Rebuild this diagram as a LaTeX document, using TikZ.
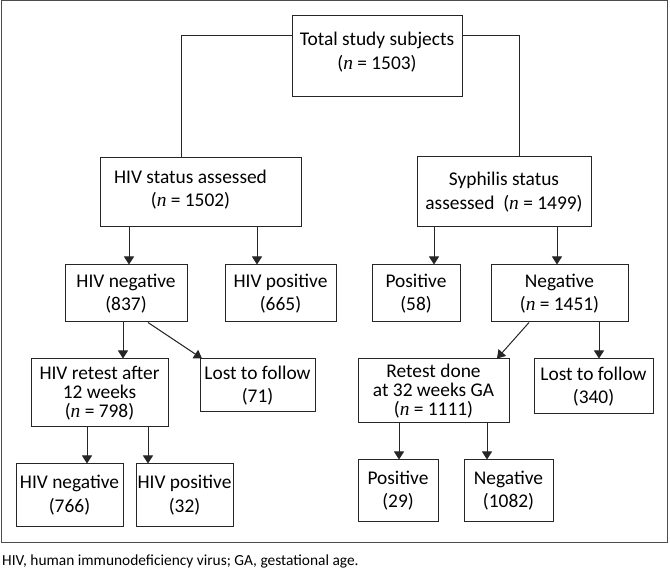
\documentclass[tikz,border=0pt]{standalone}
\usepackage{fontspec}
\setmainfont{Carlito}
\newfontfamily\serifn{Liberation Serif}
\usepackage{tikz}
\usetikzlibrary{arrows.meta}
\newcommand{\nvar}{{\serifn\itshape n}}

\tikzset{
  box/.style={draw=black!85,line width=1pt,inner sep=0pt,align=center,
    font=\fontsize{19.4}{23.5}\selectfont},
  tightbox/.style={box,font=\fontsize{19.4}{19}\selectfont},
  arr/.style={draw=black!85,line width=1pt,-{Triangle[length=8pt,width=10pt]}},
  link/.style={draw=black!85,line width=1pt}
}

\begin{document}
\begin{tikzpicture}[x=1pt,y=-1pt]
			\useasboundingbox (0,0) rectangle (670,569);
			% outer frame
			\draw[black!70,line width=1pt] (1,1) rectangle (667,542);
			% top box
			\node[box,minimum width=170pt,minimum height=81pt,text depth=11pt] (total) at (377,56.5) {Total study subjects\\(\nvar{} = 1503)};
			% second row
			\node[box,minimum width=201pt,minimum height=69pt,text depth=8pt] (hivstat) at (200.5,192.5) {HIV status assessed\hspace*{20pt}\\(\nvar{} = 1502)\hspace*{20pt}};
			\node[box,minimum width=174pt,minimum height=70pt] (syphstat) at (504,192) {Syphilis status\\assessed\ \ (\nvar{} = 1499)};
			% third row
			\node[box,minimum width=122pt,minimum height=57pt] (hivneg) at (126,293.5) {HIV negative\\(837)};
			\node[box,minimum width=111pt,minimum height=57pt] (hivpos) at (280.5,293.5) {HIV positive\\(665)};
			\node[box,minimum width=88pt,minimum height=57pt] (syphpos) at (416,293.5) {Positive\\(58)};
			\node[box,minimum width=137pt,minimum height=57pt] (syphneg) at (559.5,293.5) {Negative\\(\nvar{} = 1451)};
			% fourth row
			\node[tightbox,minimum width=137pt,minimum height=68pt] (hivretest) at (99.5,393) {HIV retest after\\12 weeks\\(\nvar{} = 798)};
			\node[box,minimum width=115pt,minimum height=53pt] (hivlost) at (257.5,385.5) {Lost to follow\\(71)};
			\node[tightbox,minimum width=151pt,minimum height=64pt] (syphretest) at (433.5,391) {Retest done\\at 32 weeks GA\\(\nvar{} = 1111)};
			\node[box,minimum width=119pt,minimum height=55pt] (syphlost) at (593.5,386.5) {Lost to follow\\(340)};
			% bottom row
			\node[box,minimum width=107pt,minimum height=62pt] (rneg) at (69.5,495) {HIV negative\\(766)};
			\node[box,minimum width=97pt,minimum height=62pt] (rpos) at (184.5,495) {HIV positive\\(32)};
			\node[box,minimum width=80pt,minimum height=61pt] (gapos) at (398,490.5) {Positive\\(29)};
			\node[box,minimum width=89pt,minimum height=61pt] (ganeg) at (508.5,490.5) {Negative\\(1082)};
			% caption
			\node[anchor=west,inner sep=0pt,font=\fontsize{15.4}{18}\selectfont] (caption) at (2,561) {HIV, human immunodeficiency virus; GA, gestational age.};
			% split lines from the top box
			\draw[link] ([yshift=20.5pt]total.west) -| ([xshift=-19.5pt]hivstat.north);
			\draw[link] ([yshift=20.5pt]total.east) -| ([xshift=15pt]syphstat.north);
			% HIV branch
			\draw[arr] ([xshift=3pt]hivneg.north |- hivstat.south) -- ([xshift=3pt]hivneg.north);
			\draw[arr] ([xshift=-23.5pt]hivpos.north |- hivstat.south) -- ([xshift=-23.5pt]hivpos.north);
			\draw[arr] ([xshift=23.5pt]hivretest.north |- hivneg.south) -- ([xshift=23.5pt]hivretest.north);
			\draw[arr] ([xshift=22pt]hivneg.south) -- ([xshift=-55.5pt]hivlost.north);
			\draw[arr] ([xshift=17.5pt]rneg.north |- hivretest.south) -- ([xshift=17.5pt]rneg.north);
			\draw[arr] ([xshift=-36.5pt]rpos.north |- hivretest.south) -- ([xshift=-36.5pt]rpos.north);
			% syphilis branch
			\draw[arr] ([xshift=18pt]syphpos.north |- syphstat.south) -- ([xshift=18pt]syphpos.north);
			\draw[arr] ([xshift=-2.5pt]syphneg.north |- syphstat.south) -- ([xshift=-2.5pt]syphneg.north);
			\draw[arr] ([xshift=-30.5pt]syphneg.south) -- ([xshift=63.5pt]syphretest.north);
			\draw[arr] ([xshift=5.5pt]syphlost.north |- syphneg.south) -- ([xshift=5.5pt]syphlost.north);
			\draw[arr] ([xshift=1pt]gapos.north |- syphretest.south) -- ([xshift=1pt]gapos.north);
			\draw[arr] ([xshift=-21.5pt]ganeg.north |- syphretest.south) -- ([xshift=-21.5pt]ganeg.north);
		\end{tikzpicture}
\end{document}
